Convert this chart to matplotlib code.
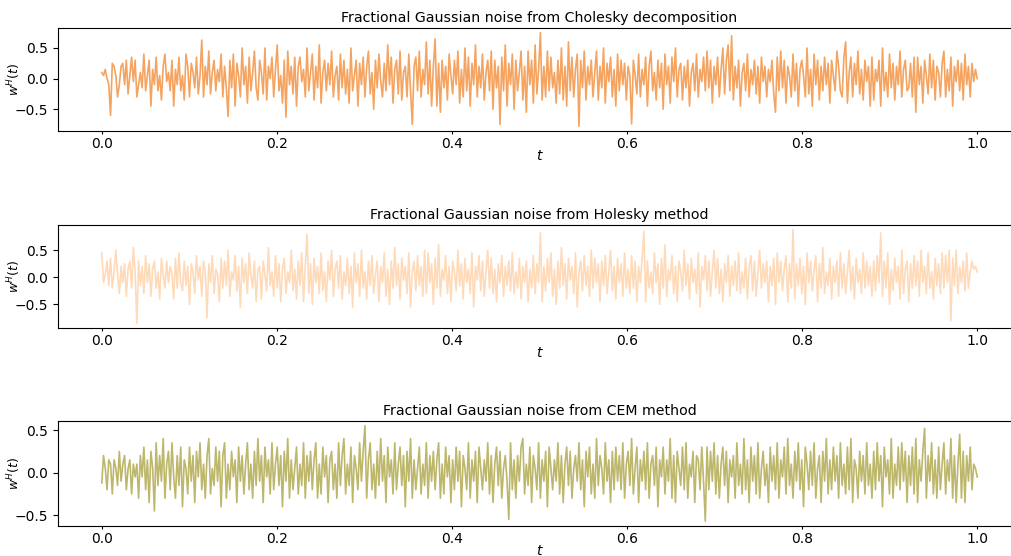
import numpy as np
import matplotlib.pyplot as plt

# values (approximate, subsampled to 500 points)
w_cholesky = [
    .1, .05, .15, .0, -.1, -.6, .25, .2, .05, -.3, -.1, .2, .25, -.1, .3, -.25, .05, .35, -.05, .3,
    -.3, -.1, .1, -.15, .4, -.2, .05, .3, -.45, .15, -.1, .35, -.2, .05, -.35, .2, .4, -.05, .1, -.2,
    .3, -.45, .15, -.1, .35, -.2, .05, -.35, .4, .2, -.3, .25, .1, -.15, .35, -.25, .05, .63, -.3, .2,
    -.1, .45, -.25, .1, .3, -.2, .15, -.05, .4, -.3, .2, -.15, -.62, .3, -.15, .4, -.45, .25, .05, -.3,
    .5, -.1, .2, -.4, .35, -.2, .1, .45, -.15, -.35, .3, .1, -.25, .5, -.35, .2, .0, .35, -.3, .15,
    .55, -.2, .05, -.4, .3, -.63, .45, -.1, .2, -.25, .35, -.45, .2, .35, -.05, .15, -.3, .5, -.2, .1,
    .4, -.35, .2, -.15, .55, -.4, .1, .3, -.2, .25, -.1, .45, -.3, .05, .2, -.35, .4, -.15, .3, -.25,
    .15, -.4, .5, -.2, .05, .3, -.45, .25, -.1, .35, -.3, .2, .45, -.25, .1, -.5, .3, -.15, .4, -.05,
    -.3, .25, -.2, .55, -.1, .35, -.4, .15, .3, -.25, .45, -.35, .1, .2, -.3, .4, -.2, -.75, .2, .35,
    -.2, .45, -.3, .15, -.1, .6, -.25, .3, -.45, .2, .65, -.45, .25, -.55, .3, -.15, .2, -.35, .4, .05,
    -.25, .3, -.1, .45, -.4, .15, -.3, .5, -.2, .35, -.45, .25, -.1, .55, -.3, .2, -.15, .4, -.35, .1,
    .3, -.2, .45, -.5, .3, -.15, .2, -.75, .35, -.2, .55, -.45, .25, -.1, .4, -.5, .3, -.2, .1, .45,
    -.35, .2, -.55, .45, -.1, .3, -.4, .55, -.25, .15, .75, -.35, .2, -.3, .45, -.2, .35, -.15, .1, -.4,
    .3, -.25, .5, -.35, .2, -.45, .6, -.2, .35, -.3, .15, .4, -.78, .3, -.15, .45, -.35, .2, -.1, .3,
    -.3, .1, .45, -.35, .2, -.15, .5, -.4, .25, -.05, .35, -.3, .15, -.45, .4, -.2, .3, -.1, .25, -.35,
    .2, .05, -.74, .3, .05, -.25, .4, -.3, .15, -.1, .35, -.45, .2, .45, -.2, .1, -.35, .3, -.15, .25,
    -.5, .4, -.1, .2, -.4, .35, -.05, .5, -.3, .15, .25, -.35, .2, -.15, .3, -.45, .1, .25, -.2, .4,
    -.3, .15, -.05, .35, -.2, .45, -.15, .3, -.4, .2, -.1, .35, -.3, .15, .5, -.25, .3, .55, -.2, .7,
    -.35, .2, -.15, .3, -.45, .1, .25, -.2, .4, -.3, .15, -.1, .3, -.25, .2, -.4, .35, -.05, .2, -.3,
    .15, -.05, .3, -.25, -.55, .35, -.2, .45, -.15, .3, -.4, .2, .05, -.3, .4, -.2, .25, -.45, .15, .3,
    .05, -.3, .5, -.25, .15, -.45, .4, -.1, .3, -.35, .2, -.2, .35, -.1, .25, -.4, .3, .05, -.2, .45,
    .2, -.2, -.3, .35, .6, -.4, .1, .35, -.3, .25, -.1, .45, -.25, .15, -.35, .3, -.05, .2, -.45, .35,
    -.35, .15, -.05, .3, -.45, .5, -.2, .1, -.3, .4, -.15, .25, -.35, .2, -.1, .45, -.3, .15, .3, -.2,
    -.15, .25, -.3, .35, -.55, .35, -.1, .2, -.4, .3, .05, -.25, .4, -.15, .3, -.35, .2, .1, -.3, .25,
    .45, -.3, .15, -.2, .35, -.45, .2, -.05, .3, -.2, .25, -.35, .4, -.1, .2, -.3, .25, -.05, .15, .0,
]
w_hosking = [
    .45, -.1, .05, .3, -.15, .35, -.2, .1, .5, .05, -.3, .2, -.1, .25, -.35, .15, .3, -.2, .55, .1,
    -.85, .3, -.15, .2, -.3, .4, -.1, .25, -.35, .15, .3, -.2, .1, -.4, .35, .05, -.2, .3, -.1, .2,
    .05, -.4, .35, -.2, .45, -.1, -.25, .3, -.15, .2, -.5, .25, .1, -.3, .4, -.05, .2, -.35, .3, .1,
    -.75, .25, -.1, .4, -.3, .15, .05, -.45, .35, -.2, .3, -.15, .5, -.35, .1, -.05, .4, -.25, .2, -.55,
    .35, -.1, .25, -.3, .45, .05, -.2, .3, -.45, .15, .2, -.4, .3, .05, -.25, .55, -.15, .1, -.35, .4,
    -.2, .25, -.45, .15, .35, -.3, .1, -.1, .5, -.25, .15, -.4, .3, -.15, .45, -.45, .2, .8, -.3, .25,
    -.5, .35, -.1, .2, -.3, .45, -.25, .1, -.45, .3, -.05, .5, -.35, .15, .3, -.2, .4, -.4, .1, -.15,
    .35, -.3, .2, -.55, .45, -.1, .25, -.35, .5, -.2, .1, -.4, .3, -.15, .4, -.3, .05, .3, -.45, .2,
    -.1, .45, -.35, .15, -.5, .3, -.2, .55, -.15, .25, -.4, .35, -.05, .2, -.3, .45, -.55, .1, .3, -.25,
    .4, -.15, .2, -.35, .5, -.3, .45, -.1, .25, -.5, .35, -.2, .6, -.35, .15, -.05, .4, -.3, .2, -.45,
    .3, .1, -.25, .5, -.15, .25, -.4, .35, -.1, .15, -.3, .45, -.55, .2, -.05, .4, -.25, .3, -.35, .1,
    .5, -.2, .35, -.3, .15, -.45, .25, -.1, .4, -.35, .2, -.15, .3, -.25, .45, -.3, .1, -.2, .35, -.4,
    .2, -.1, .3, -.45, .15, -.2, .4, -.3, .25, -.1, .82, -.45, .2, -.25, .35, -.1, .45, -.35, .15, -.5,
    .3, -.2, .55, -.15, .25, -.4, .35, -.05, .2, -.3, .45, -.55, .1, .3, -.25, .4, -.15, .2, -.35, .5,
    -.2, .35, -.1, .25, -.45, .3, -.15, .4, -.3, .1, .5, -.25, .2, -.4, .35, -.1, .25, -.35, .45, -.2,
    .15, -.3, .4, -.2, .3, -.45, .2, -.1, .35, .85, -.45, .3, -.2, .1, -.3, .45, -.1, .25, -.5, .35,
    -.2, .6, -.35, .15, -.05, .4, -.3, .2, -.45, .3, .1, -.25, .5, -.15, .25, -.4, .35, -.1, .15, -.3,
    .45, -.55, .2, -.05, .4, -.25, .3, -.35, .1, .5, -.2, .35, -.3, .15, -.45, .25, -.1, .4, -.35, .2,
    -.15, .3, -.25, .45, -.3, .1, -.2, .35, -.4, .2, .4, -.25, .3, -.35, .1, .5, -.2, .25, -.1, .3,
    -.45, .2, -.15, .35, -.5, .45, -.1, .3, -.25, .15, .4, -.45, .25, -.2, .88, -.4, .25, -.15, .35, -.3,
    .2, -.5, .45, -.1, .3, -.25, .15, .4, -.45, .25, -.2, .55, -.3, .1, -.15, .35, -.4, .2, -.1, .3,
    -.35, .45, -.2, .25, -.3, .1, .5, -.25, .2, -.4, .35, -.1, .15, -.3, .45, -.2, .3, -.15, .2, -.35,
    .3, -.25, .4, -.1, .82, -.35, .3, -.2, .45, -.5, .15, -.25, .35, -.1, .2, -.4, .5, -.3, .15, .3,
    -.45, .25, -.2, .4, -.15, .3, -.35, .5, -.1, .2, -.3, .45, -.2, .1, -.4, .35, -.15, .25, -.3, .45,
    -.2, .4, -.1, .5, -.8, .35, -.15, .5, -.3, .2, -.1, .3, -.25, .45, -.2, .1, .3, .15, .2, .1,
]
w_cem = [
    -.12, .2, .05, -.2, .15, .1, -.25, .15, .05, -.15, .25, -.1, .1, .2, -.2, .05, .15, -.25, .1, -.05,
    .1, -.3, .2, -.05, .3, -.2, .15, -.35, .25, .05, -.45, .35, -.15, .2, -.1, .4, -.3, .1, .25, -.2,
    .35, -.05, -.3, .2, -.15, .3, -.4, .15, .05, -.25, .3, -.1, .2, -.35, .25, -.05, .35, -.2, .1, -.3,
    .2, .4, -.25, .05, -.15, .3, -.1, .25, -.4, .2, .35, -.3, .1, -.2, .25, -.05, .15, -.35, .3, -.1,
    .2, -.25, .1, .35, -.2, .1, -.3, .25, -.15, .4, -.1, .2, -.35, .3, -.05, .15, -.25, .35, -.2, .1,
    .3, -.15, .2, -.4, .25, -.1, .4, -.3, .15, -.2, .05, .3, -.25, .1, -.15, .35, -.3, .2, -.1, .25,
    -.2, .15, .35, -.3, .1, -.25, .3, -.05, .2, -.35, .15, .25, -.2, .1, -.3, .35, -.15, .2, .4, -.25,
    .1, -.15, .3, -.35, .2, .05, -.2, .35, -.1, .25, .55, -.3, .15, .35, -.2, .1, -.3, .25, -.15, .4,
    -.1, .2, -.35, .3, -.05, .15, -.25, .35, -.2, .1, .3, -.15, .2, -.4, .25, -.1, .4, -.3, .15, -.2,
    .05, .3, -.25, .1, -.15, .35, -.3, .2, -.1, .25, -.2, .15, .35, -.3, .1, -.25, .3, -.05, .2, -.35,
    .15, -.2, .3, -.1, .25, -.4, .2, .05, -.2, .35, -.3, .15, -.1, .25, -.35, .3, .05, -.2, .15, -.1,
    .35, -.25, .2, -.35, .1, .3, -.15, .25, -.3, .05, .2, -.1, -.55, .35, -.2, .15, -.3, .2, -.1, .3,
    .4, -.25, .1, -.15, .3, -.35, .2, .05, -.2, .35, -.3, .15, -.1, .25, -.4, .3, .05, -.2, .15, -.1,
    .35, -.25, .2, -.35, .1, .3, -.15, .25, -.3, .05, .2, -.1, .35, -.2, .15, -.4, .25, -.05, .3, -.25,
    .1, -.3, .4, -.15, .2, .05, -.25, .35, -.1, .15, -.35, .25, -.2, .3, -.1, .2, -.2, .35, -.3, .1,
    .25, -.15, .4, -.25, .05, .3, -.35, .15, -.1, .25, -.2, .35, -.3, .1, .2, -.15, .3, -.4, .15, -.05,
    .3, -.25, .15, -.1, .4, -.3, .2, -.35, .25, .05, -.15, .3, -.2, .35, -.3, .1, -.05, .25, -.35, .2,
    .15, -.2, .3, -.1, -.57, .3, -.2, .25, -.1, .35, -.25, .2, -.3, .1, .3, -.15, .25, -.35, .15, -.05,
    .2, -.3, .35, -.15, .1, -.25, .4, -.2, .15, -.35, .3, -.1, .2, -.25, .35, -.3, .05, .25, -.15, .1,
    -.35, .3, -.1, .2, -.2, .35, -.3, .15, -.05, .3, -.25, .4, -.15, .1, -.3, .25, -.1, .35, -.2, .15,
    -.4, .3, .1, -.2, .25, -.15, .35, -.3, .05, .2, -.35, .25, -.1, .4, -.25, .15, -.2, .3, -.1, .2,
    -.3, .35, -.15, .1, -.25, .3, -.2, .4, -.35, .15, .05, -.3, .25, -.1, .2, -.25, .35, -.15, .1, -.3,
    .25, -.2, .35, -.1, .2, -.4, .3, -.05, .15, -.25, .4, -.3, .1, -.15, .3, -.2, .35, -.1, .25, -.35,
    .2, -.15, .3, -.25, .4, -.35, .15, -.1, .25, .52, -.3, .2, -.1, .35, -.25, .15, -.3, .3, -.2, .1,
    .35, -.25, .15, -.1, .4, -.3, .2, -.35, .1, .45, -.3, .25, -.35, .2, -.1, .3, -.2, .1, .05, -.05,
]

titles = ["Fractional Gaussian noise from Cholesky decomposition",
          "Fractional Gaussian noise from Holesky method",
          "Fractional Gaussian noise from CEM method"]
colors = ["sandybrown", "peachpuff", "darkkhaki"]
series = [w_cholesky, w_hosking, w_cem]

fig = plt.figure(figsize=(10.11, 5.56), dpi=100)
W, H = 1011, 556
# axes boxes in pixels: left, top, bottom (right edge runs past the canvas)
boxes = [(58, 28, 131), (58, 225, 328), (58, 421, 526)]
for (x0, ytop, ybot), w, c, title in zip(boxes, series, colors, titles):
    ax = fig.add_axes([x0 / W, 1 - ybot / H, (1021 - x0) / W, (ybot - ytop) / H])
    t = np.linspace(0, 1, len(w))
    ax.plot(t, w, color=c, lw=1.2)
    ax.set_xlim(-0.05, 1.05)
    ax.set_title(title, fontsize=10.2, pad=4)
    ax.set_xlabel("$t$")
    ax.set_ylabel("$w^H(t)$", fontsize=9)
    ax.tick_params(axis='x', length=2.5, pad=1.5)
    ax.xaxis.set_label_coords(0.5, -0.17)
    ax.yaxis.set_label_coords(-0.036, 0.5)

fig.savefig("out.png", dpi=100)
